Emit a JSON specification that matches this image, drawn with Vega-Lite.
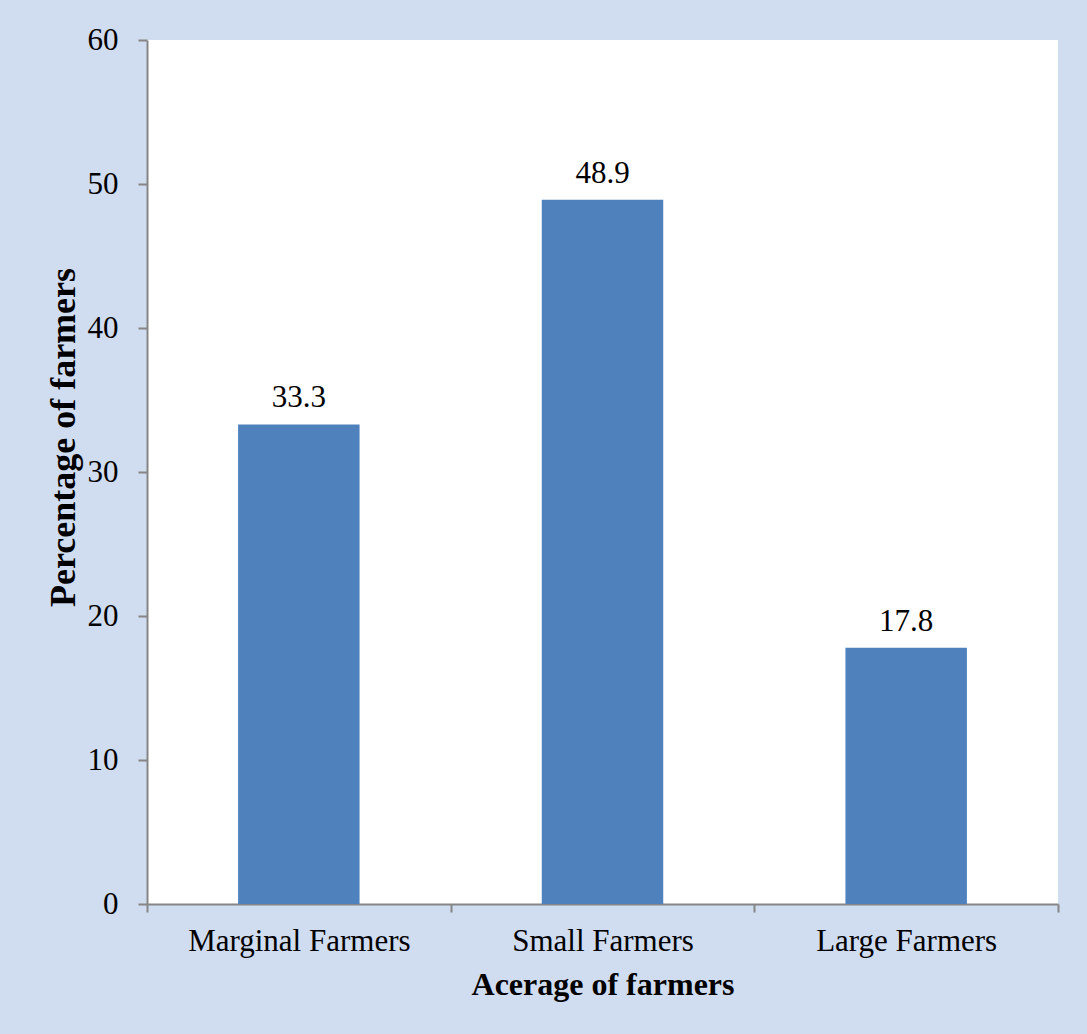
{
  "$schema": "https://vega.github.io/schema/vega-lite/v6.json",
  "autosize": {"type": "none"},
  "width": 911,
  "height": 864,
  "padding": {"left": 147, "top": 40, "right": 29, "bottom": 130},
  "background": "#d0dcf0",
  "config": {
    "font": "Liberation Serif",
    "view": {"stroke": null, "fill": "white"},
    "axis": {
      "domainColor": "#868686",
      "domainWidth": 2,
      "tickColor": "#868686",
      "tickWidth": 2,
      "labelColor": "black",
      "titleColor": "black",
      "labelFont": "Liberation Serif",
      "titleFont": "Liberation Serif",
      "labelFontSize": 31,
      "labelLimit": 0,
      "titleFontSize": 32,
      "titleFontWeight": "bold",
      "grid": false
    }
  },
  "data": {
    "values": [
      {"category": "Marginal Farmers", "percent": 33.3},
      {"category": "Small Farmers", "percent": 48.9},
      {"category": "Large Farmers", "percent": 17.8}
    ]
  },
  "encoding": {
    "x": {
      "field": "category",
      "type": "nominal",
      "sort": null,
      "scale": {"paddingInner": 0, "paddingOuter": 0},
      "axis": {
        "title": "Acerage of farmers",
        "labelAngle": 0,
        "tickBand": "extent",
        "tickSize": 8,
        "labelPadding": 14,
        "titlePadding": 13
      }
    },
    "y": {
      "field": "percent",
      "type": "quantitative",
      "scale": {"domain": [0, 60]},
      "axis": {
        "title": "Percentage of farmers",
        "titleFontSize": 36,
        "titleY": 397,
        "values": [0, 10, 20, 30, 40, 50, 60],
        "tickSize": 9,
        "labelPadding": 20,
        "titlePadding": 5
      }
    }
  },
  "layer": [
    {"mark": {"type": "bar", "color": "#4f81bd", "width": {"band": 0.4}}},
    {
      "mark": {"type": "text", "baseline": "alphabetic", "dy": -17, "fontSize": 31, "font": "Liberation Serif", "color": "black"},
      "encoding": {"text": {"field": "percent", "type": "quantitative", "format": ".1f"}}
    }
  ]
}
